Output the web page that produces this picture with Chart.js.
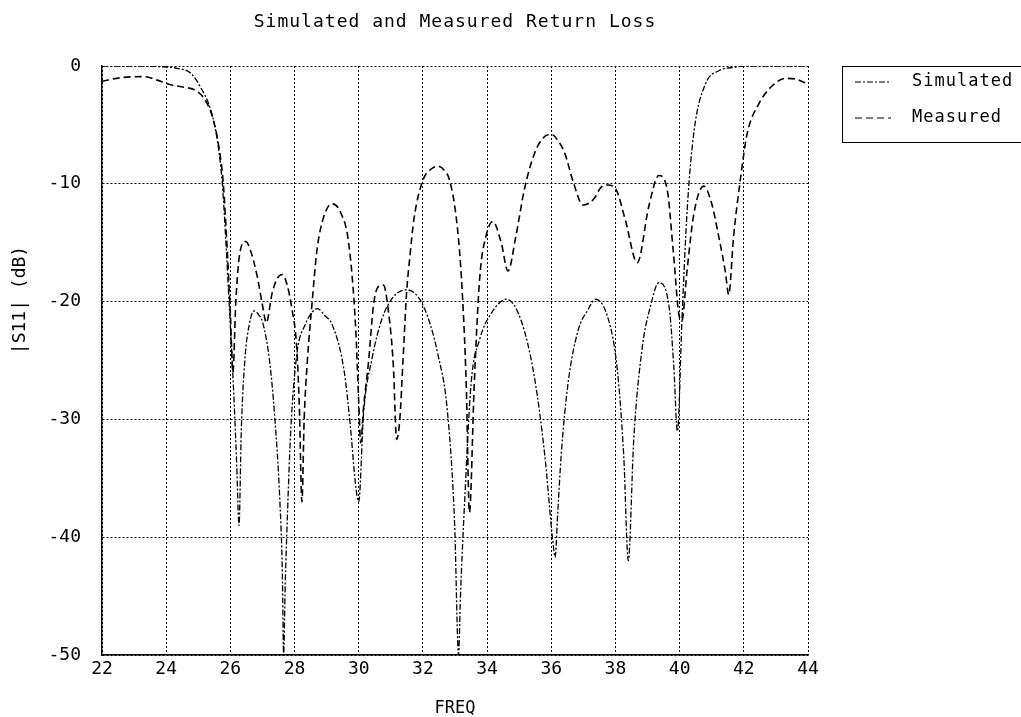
<!DOCTYPE html>
<html lang="en">
<head>
<meta charset="UTF-8">
<title>Simulated and Measured Return Loss</title>
<script src="https://cdn.jsdelivr.net/npm/chart.js"></script>
<style>
  body { margin: 0; background: #fff; }
  #wrap { width: 1021px; height: 717px; }
</style>
</head>
<body>
<div id="wrap"><canvas id="chart" width="1021" height="717"></canvas></div>
<script>
// |S11| in dB
const simFreq = [22.0, 23.0, 23.8, 24.34, 24.76, 25.07, 25.39, 25.6, 25.75, 25.85, 25.96, 26.1, 26.2, 26.27, 26.34, 26.45, 26.6, 26.74, 26.88, 27.01,
  27.22, 27.38, 27.54, 27.62, 27.66, 27.71, 27.78, 27.88, 28.07, 28.34, 28.55, 28.71, 28.95, 29.18, 29.54, 29.74, 29.9, 30.0, 30.15, 30.41,
  30.72, 31.08, 31.49, 31.85, 32.15, 32.46, 32.77, 32.99, 33.11, 33.17, 33.3, 33.5, 33.77, 34.13, 34.6, 35.06, 35.48, 35.8, 36.05, 36.12,
  36.2, 36.31, 36.52, 36.83, 37.14, 37.38, 37.79, 38.05, 38.26, 38.4, 38.57, 38.83, 39.09, 39.35, 39.67, 39.82, 39.93, 40.08, 40.24, 40.45,
  40.8, 41.22, 41.73, 42.0, 44.0];
const simLoss = [0, 0, -0.05, -0.2, -0.6, -1.8, -3.75, -6.4, -10, -14.4, -20, -27.5, -34, -39, -31, -25, -21.8, -20.8, -21.1, -21.8,
  -25, -29.7, -36.8, -43, -50, -44, -38, -31, -24.5, -21.9, -20.9, -20.6, -21.2, -22, -25.8, -30.6, -35.5, -37, -29.5, -24.9,
  -21.5, -19.6, -19, -19.6, -21.3, -24.4, -29.5, -39, -50, -45, -37, -27, -23.2, -21, -19.8, -21.6, -26.5, -33.1, -40.4, -41.7,
  -38, -33, -27, -22.5, -20.7, -19.8, -21.6, -25.6, -33.2, -42, -31.7, -24, -20.4, -18.4, -20.4, -25.6, -31, -21, -12, -5.5,
  -1.55, -0.4, -0.1, 0, 0];

const measFreq = [22.0, 22.57, 23.3, 23.72, 24.14, 24.55, 24.86, 25.18, 25.44, 25.65, 25.78, 25.9, 26.0, 26.08, 26.17, 26.3, 26.48, 26.62, 26.84, 27.0,
  27.12, 27.3, 27.45, 27.62, 27.78, 27.91, 28.07, 28.15, 28.23, 28.3, 28.4, 28.55, 28.7, 28.91, 29.17, 29.43, 29.69, 29.9, 30.0, 30.06,
  30.15, 30.31, 30.46, 30.62, 30.77, 30.92, 31.08, 31.18, 31.28, 31.38, 31.49, 31.59, 31.72, 32.0, 32.28, 32.47, 32.65, 32.83, 33.04, 33.2,
  33.35, 33.45, 33.6, 33.77, 33.97, 34.18, 34.44, 34.65, 34.9, 35.16, 35.48, 35.75, 36.0, 36.2, 36.42, 36.68, 36.99, 37.32, 37.55, 37.74,
  38.0, 38.31, 38.68, 39.04, 39.35, 39.6, 39.81, 39.97, 40.07, 40.23, 40.44, 40.75, 41.0, 41.22, 41.42, 41.53, 41.68, 41.89, 42.1, 42.46,
  42.88, 43.3, 43.6, 43.97];
const measLoss = [-1.3, -1.0, -0.9, -1.2, -1.6, -1.8, -2.0, -2.75, -4.3, -7.0, -10, -15.5, -21, -26, -20, -15.8, -14.9, -15.6, -17.9, -20.3,
  -21.8, -19.3, -18.1, -17.7, -18.7, -20.5, -24, -29, -37, -30, -25, -20, -15.6, -12.8, -11.7, -12.4, -15.1, -22, -28.5, -32,
  -29, -25, -20.3, -18.7, -18.6, -20.7, -25.5, -31.7, -30, -25, -19.3, -16.3, -13, -9.7, -8.7, -8.5, -8.8, -9.7, -12.9, -18,
  -27, -37.9, -27, -18, -14.4, -13.2, -15, -17.4, -14.4, -10.5, -7.4, -6.1, -5.8, -6.3, -7.4, -9.8, -11.8, -11.3, -10.3, -10.1,
  -10.4, -13.1, -16.7, -11.9, -9.3, -10.3, -16, -21, -21.6, -17.4, -12.6, -10.2, -11.7, -14.5, -17.4, -19.4, -14.5, -9.7, -5.8, -3.25,
  -1.7, -1.05, -1.1, -1.5];

const seriesNames = ['Simulated', 'Measured'];
const xRange = [22, 44];
const yRange = [-50, 0];

const FONT = '"DejaVu Sans Mono", "Liberation Mono", monospace';

function toPoints(xs, ys) {
  return xs.map((x, i) => ({ x: x, y: ys[i] }));
}

// title, y axis title and the boxed legend
const decor = {
  id: 'decor',
  afterDraw(chart) {
    const ctx = chart.ctx;
    const area = chart.chartArea;
    ctx.save();
    ctx.fillStyle = '#000';
    ctx.strokeStyle = '#000';
    ctx.font = '18px ' + FONT;
    ctx.letterSpacing = '1px';
    ctx.textAlign = 'center';
    ctx.textBaseline = 'middle';
    ctx.fillText('Simulated and Measured Return Loss', (area.left + area.right) / 2, 22);

    ctx.save();
    ctx.translate(20, 300);
    ctx.rotate(-Math.PI / 2);
    ctx.letterSpacing = '0px';
    ctx.fillText('|S11| (dB)', 0, 0);
    ctx.restore();

    // legend
    ctx.lineWidth = 1;
    ctx.setLineDash([]);
    ctx.strokeRect(842.5, 66.5, 220, 76);
    ctx.letterSpacing = '1px';
    ctx.font = '17px ' + FONT;
    ctx.textAlign = 'left';
    chart.data.datasets.forEach((ds, i) => {
      const y = 82 + i * 36;
      ctx.save();
      ctx.lineWidth = 1;
      ctx.setLineDash(ds.borderDash);
      ctx.beginPath();
      ctx.moveTo(855, y);
      ctx.lineTo(891, y);
      ctx.stroke();
      ctx.restore();
      ctx.fillText(ds.label, 912, y);
    });
    ctx.restore();
  }
};

new Chart(document.getElementById('chart'), {
  type: 'line',
  data: {
    datasets: [
      {
        label: seriesNames[0],
        data: toPoints(simFreq, simLoss),
        borderColor: '#000',
        borderWidth: 1.3,
        borderDash: [6, 2, 2, 2],
        pointRadius: 0,
        fill: false,
        cubicInterpolationMode: 'monotone'
      },
      {
        label: seriesNames[1],
        data: toPoints(measFreq, measLoss),
        borderColor: '#000',
        borderWidth: 1.6,
        borderDash: [7, 4],
        pointRadius: 0,
        fill: false,
        cubicInterpolationMode: 'monotone'
      }
    ]
  },
  options: {
    responsive: false,
    animation: false,
    layout: { padding: { top: 66, right: 213, left: 0, bottom: 0 } },
    plugins: {
      legend: { display: false },
      title: { display: false },
      tooltip: { enabled: false }
    },
    scales: {
      x: {
        type: 'linear',
        min: xRange[0],
        max: xRange[1],
        afterFit: (axis) => { axis.height = 62; },
        ticks: {
          stepSize: 2,
          padding: 4,
          color: '#000',
          maxRotation: 0,
          autoSkip: false,
          font: { family: FONT, size: 18 }
        },
        grid: { color: '#000', lineWidth: 1, drawTicks: false },
        border: { display: true, color: '#000', width: 1.5, dash: [2, 2] },
        title: {
          display: true,
          text: 'FREQ',
          color: '#000',
          font: { family: FONT, size: 17, lineHeight: 1 },
          padding: { top: 0, bottom: 0 }
        }
      },
      y: {
        min: yRange[0],
        max: yRange[1],
        afterFit: (axis) => { axis.width = 102; },
        ticks: {
          stepSize: 10,
          padding: 21,
          color: '#000',
          font: { family: FONT, size: 18 }
        },
        grid: { color: '#000', lineWidth: 1, drawTicks: false },
        border: { display: true, color: '#000', width: 1.5, dash: [2, 2] }
      }
    }
  },
  plugins: [decor]
});
</script>
</body>
</html>
